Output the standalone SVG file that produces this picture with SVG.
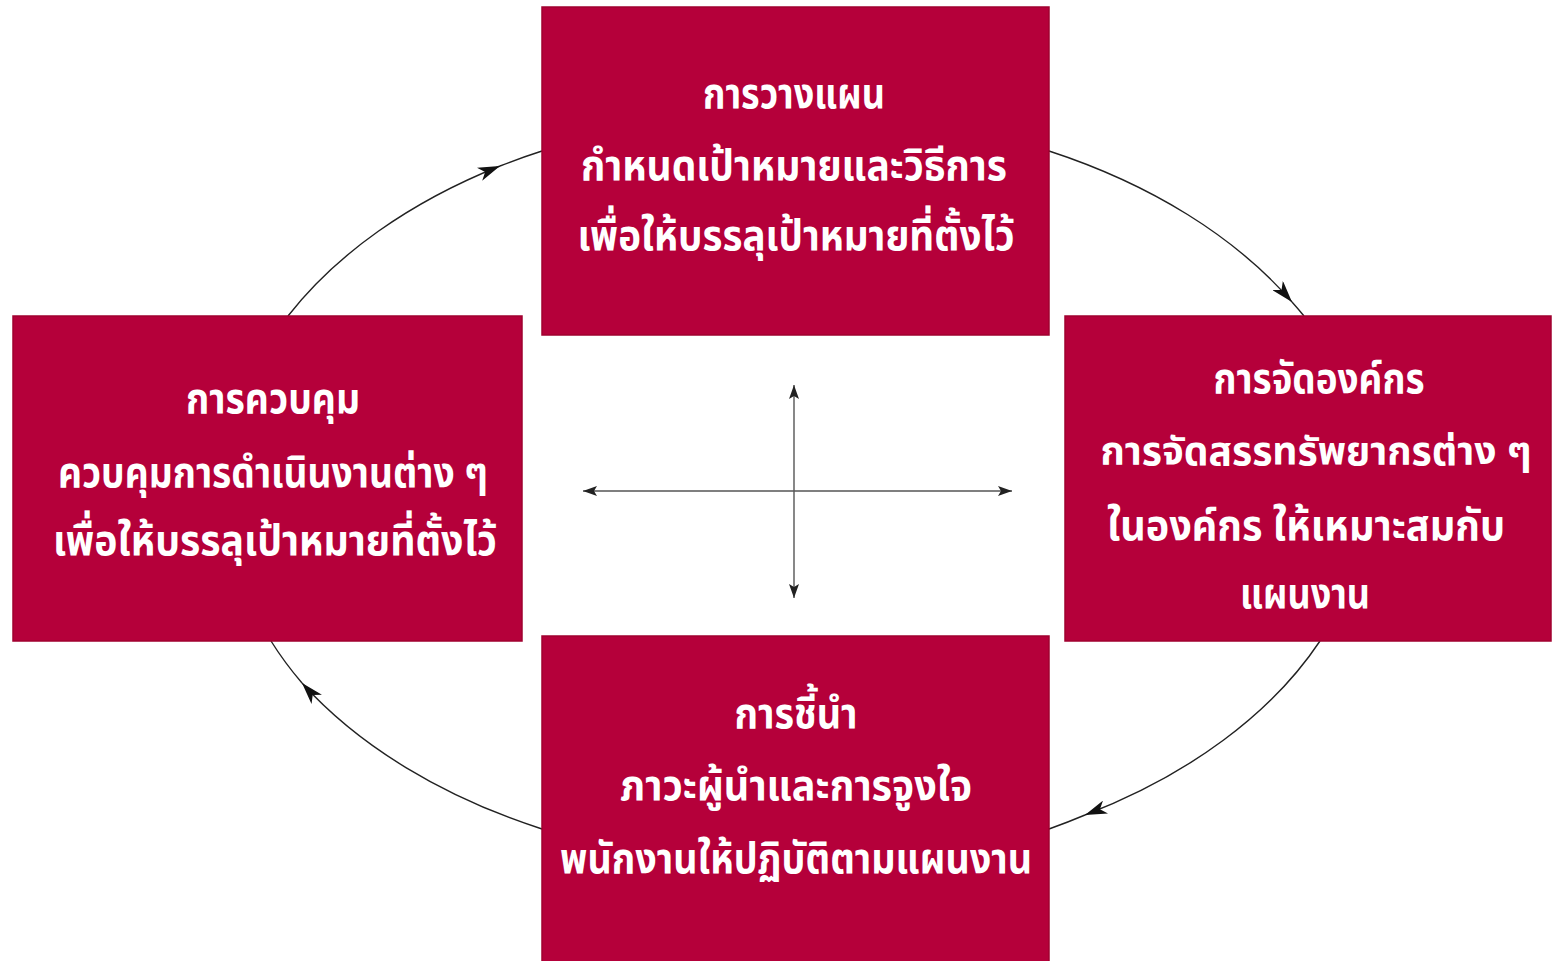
<svg xmlns="http://www.w3.org/2000/svg" width="1552" height="961" viewBox="0 0 1552 961">
<defs>
<style>
.box{fill:#b5003a;stroke:#a0002f;stroke-width:1.5}
.t{font-family:"Noto Sans Thai","Loma","Garuda","Noto Sans","DejaVu Sans",sans-serif;font-weight:bold;font-size:43px;fill:#ffffff;text-anchor:middle}
.arc{fill:none;stroke:#222;stroke-width:1.4}
.ax{fill:none;stroke:#555;stroke-width:1.4}
</style>
<marker id="ah" viewBox="0 0 22 14" refX="22" refY="7" markerWidth="22" markerHeight="14" markerUnits="userSpaceOnUse" orient="auto">
<path d="M0,0 L22,7 L0,14 L6,7 Z" fill="#111"/>
</marker>
<marker id="ax" viewBox="0 0 14 10" refX="14" refY="5" markerWidth="14" markerHeight="10" markerUnits="userSpaceOnUse" orient="auto-start-reverse">
<path d="M0,0 L14,5 L0,10 L3,5 Z" fill="#222"/>
</marker>
</defs>
<rect width="1552" height="961" fill="#ffffff"/>
<g id="connectors">
<path class="arc" d="M288,316 A571,378 0 0 1 500,166" marker-end="url(#ah)"/>
<path class="arc" d="M500,166 A571,378 0 0 1 542,151"/>
<path class="arc" d="M1049,151 A571,378 0 0 1 1292,302" marker-end="url(#ah)"/>
<path class="arc" d="M1292,302 A571,378 0 0 1 1304,316"/>
<path class="arc" d="M1320,641 A571,378 0 0 1 1085,815" marker-end="url(#ah)"/>
<path class="arc" d="M1085,815 A571,378 0 0 1 1049,829"/>
<path class="arc" d="M542,829 A571,378 0 0 1 302,683" marker-end="url(#ah)"/>
<path class="arc" d="M302,683 A571,378 0 0 1 271,641"/>
<path class="ax" d="M583,491 L1012,491" marker-start="url(#ax)" marker-end="url(#ax)"/>
<path class="ax" d="M794,385 L794,598" marker-start="url(#ax)" marker-end="url(#ax)"/>
</g>
<g id="planning">
<rect class="box" x="542" y="7" width="507" height="328"/>
<text class="t" x="794" y="108" textLength="182" lengthAdjust="spacingAndGlyphs">การวางแผน</text>
<text class="t" x="794" y="180" textLength="426" lengthAdjust="spacingAndGlyphs">กำหนดเป้าหมายและวิธีการ</text>
<text class="t" x="796" y="250" textLength="437" lengthAdjust="spacingAndGlyphs">เพื่อให้บรรลุเป้าหมายที่ตั้งไว้</text>
</g>
<g id="organizing">
<rect class="box" x="1065" y="316" width="486" height="325"/>
<text class="t" x="1319" y="393" textLength="211" lengthAdjust="spacingAndGlyphs">การจัดองค์กร</text>
<text class="t" x="1316" y="465" style="font-size:39px">การจัดสรรทรัพยากรต่าง ๆ</text>
<text class="t" x="1306" y="540" textLength="398" lengthAdjust="spacingAndGlyphs">ในองค์กร ให้เหมาะสมกับ</text>
<text class="t" x="1305" y="608" textLength="130" lengthAdjust="spacingAndGlyphs">แผนงาน</text>
</g>
<g id="leading">
<rect class="box" x="542" y="636" width="507" height="330"/>
<text class="t" x="796" y="728" textLength="123" lengthAdjust="spacingAndGlyphs">การชี้นำ</text>
<text class="t" x="796" y="800" textLength="352" lengthAdjust="spacingAndGlyphs">ภาวะผู้นำและการจูงใจ</text>
<text class="t" x="796" y="873" textLength="472" lengthAdjust="spacingAndGlyphs">พนักงานให้ปฏิบัติตามแผนงาน</text>
</g>
<g id="controlling">
<rect class="box" x="13" y="316" width="509" height="325"/>
<text class="t" x="273" y="413" textLength="174" lengthAdjust="spacingAndGlyphs">การควบคุม</text>
<text class="t" x="273" y="487" textLength="430" lengthAdjust="spacingAndGlyphs">ควบคุมการดำเนินงานต่าง ๆ</text>
<text class="t" x="275" y="555" textLength="444" lengthAdjust="spacingAndGlyphs">เพื่อให้บรรลุเป้าหมายที่ตั้งไว้</text>
</g>
</svg>
